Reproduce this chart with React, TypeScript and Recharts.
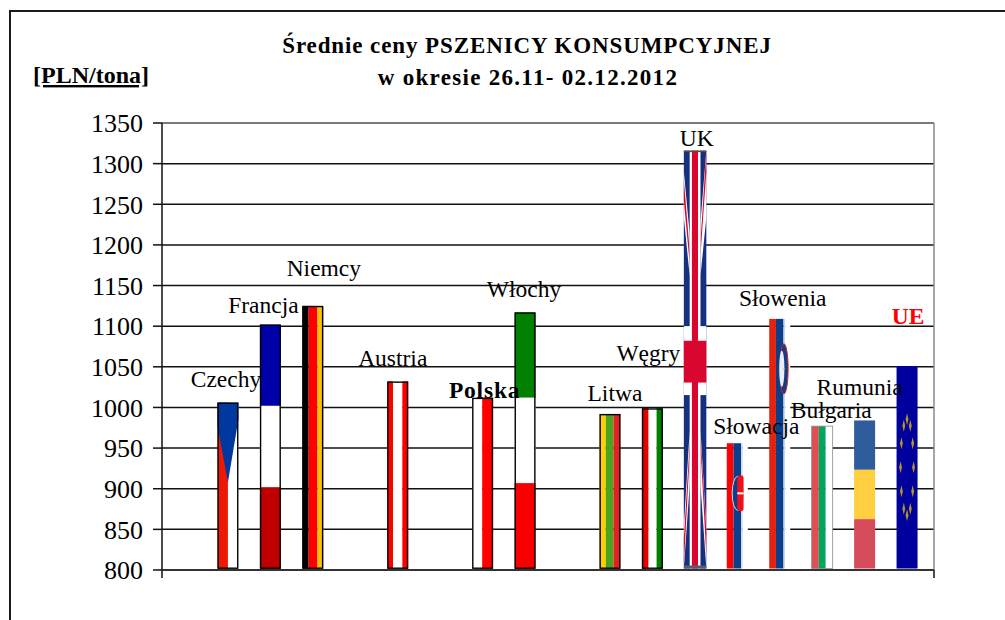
import React from 'react';
import { ComposedChart, Bar, XAxis, YAxis, CartesianGrid, LabelList, ReferenceLine } from 'recharts';

const categories = ['', 'Czechy', 'Francja', 'Niemcy', ' ', 'Austria', '  ', 'Polska', 'Włochy', '   ', 'Litwa', 'Węgry', 'UK', 'Słowacja', 'Słowenia', 'Bułgaria', 'Rumunia', 'UE'];
const prices: (number | null)[] = [null, 1006, 1102, 1125, null, 1032, null, 1012, 1117, null, 992, 999, 1316, 956, 1109, 977, 984, 1051];
const yTicks = [800, 850, 900, 950, 1000, 1050, 1100, 1150, 1200, 1250, 1300, 1350];
const titleLines = ['Średnie ceny PSZENICY KONSUMPCYJNEJ', 'w okresie 26.11- 02.12.2012'];
const unitLabel = '[PLN/tona]';

const chartData = categories.map((name, i) => ({ name, price: prices[i] }));

const FONT = "'Liberation Serif', serif";

// Flag stripes: [colour, share]
const vertical: Record<string, [string, number][]> = {
  Czechy: [['#F01800', 0.5], ['#FFFFFF', 0.5]],
  Niemcy: [['#000000', 0.3], ['#FF0000', 0.42], ['#F5C400', 0.28]],
  Austria: [['#FF0000', 0.28], ['#FFFFFF', 0.44], ['#FF0000', 0.28]],
  Polska: [['#FFFFFF', 0.48], ['#FF0000', 0.52]],
  Litwa: [['#FFD000', 0.3], ['#4EA31E', 0.37], ['#E52020', 0.33]],
  Węgry: [['#E80000', 0.32], ['#FFFFFF', 0.38], ['#008000', 0.3]],
  Słowacja: [['#FF0000', 0.32], ['#0A3F8C', 0.36], ['#C9D9EC', 0.08], ['#FFFFFF', 0.24]],
  Słowenia: [['#E4230F', 0.32], ['#0A3F8C', 0.36], ['#C9D9EC', 0.08], ['#FFFFFF', 0.24]],
  Bułgaria: [['#DF4F52', 0.34], ['#00A65D', 0.33], ['#FFFFFF', 0.33]],
};
const horizontal: Record<string, [string, number][]> = {
  Francja: [['#0000A8', 1 / 3], ['#FFFFFF', 1 / 3], ['#C00000', 1 / 3]],
  Włochy: [['#008000', 1 / 3], ['#FFFFFF', 1 / 3], ['#F80000', 1 / 3]],
  Rumunia: [['#2F5D9B', 1 / 3], ['#FFCF3F', 1 / 3], ['#D64C5A', 1 / 3]],
};
const framed = ['Czechy', 'Francja', 'Niemcy', 'Austria', 'Polska', 'Włochy', 'Litwa', 'Węgry'];

// Union Jack diagonals, in shares of the flag: [edge x, edge y1, edge y2, inner x, inner y1, inner y2]
const jackWhite: number[][] = [
  [0, 0.05, 0.16, 0.26, 0.2, 0.3],
  [1, 0, 0.16, 0.74, 0.17, 0.3],
  [0, 0.9, 1, 0.26, 0.67, 0.8],
  [1, 0.9, 1, 0.74, 0.67, 0.8],
];
const jackRed: number[][] = [
  [0, 0.07, 0.12, 0.26, 0.24, 0.27],
  [1, 0, 0.05, 0.74, 0.22, 0.25],
  [0, 0.93, 0.99, 0.26, 0.7, 0.73],
  [1, 0.91, 0.97, 0.74, 0.68, 0.71],
];

function UnionFlag({ x, y, w, h }: { x: number; y: number; w: number; h: number }) {
  const poly = ([ex, e1, e2, ix, i1, i2]: number[], col: string, key: string) => (
    <polygon
      key={key}
      fill={col}
      points={[
        [ex, e1],
        [ix, i1],
        [ix, i2],
        [ex, e2],
      ]
        .map(([a, b]) => `${x + a * w},${y + b * h}`)
        .join(' ')}
    />
  );
  return (
    <g>
      <rect x={x} y={y} width={w} height={h} fill="#15307F" />
      {jackWhite.map((d, i) => poly(d, '#FFFFFF', `w${i}`))}
      {jackRed.map((d, i) => poly(d, '#D9062F', `r${i}`))}
      <rect x={x + 0.26 * w} y={y} width={0.48 * w} height={h} fill="#FFFFFF" />
      <rect x={x} y={y + 0.42 * h} width={w} height={0.165 * h} fill="#FFFFFF" />
      <rect x={x + 0.36 * w} y={y} width={0.27 * w} height={h} fill="#D9062F" />
      <rect x={x} y={y + 0.455 * h} width={w} height={0.1 * h} fill="#D9062F" />
      <rect x={x} y={y} width={w} height={1.5} fill="#5A4A3A" />
      <rect x={x} y={y + h - 3} width={w} height={3} fill="#5A5A70" />
    </g>
  );
}

function FlagBar(props: any) {
  const { x, y, width, height, payload } = props;
  const name: string = payload.name;
  if (payload.price == null) return null;
  const h = height - 1.5;
  const parts: React.ReactNode[] = [];

  if (name === 'UK') return <UnionFlag x={x - 0.5} y={y} w={width + 1.5} h={h} />;

  if (vertical[name]) {
    let cx = x;
    vertical[name].forEach(([c, s], i) => {
      parts.push(<rect key={i} x={cx} y={y} width={width * s} height={h} fill={c} />);
      cx += width * s;
    });
  }
  if (horizontal[name]) {
    let cy = y;
    horizontal[name].forEach(([c, s], i) => {
      parts.push(<rect key={i} x={x} y={cy} width={width} height={h * s} fill={c} />);
      cy += h * s;
    });
  }
  if (name === 'Czechy') {
    const pts = [[0, 0], [1, 0], [1, 0.1], [0.5, 0.48], [0, 0.14]]
      .map(([a, b]) => `${x + a * width},${y + b * h}`)
      .join(' ');
    parts.push(<polygon key="tri" points={pts} fill="#0038A0" />);
  }
  if (name === 'Słowacja') {
    const cy = y + 0.4 * h;
    parts.push(<ellipse key="e" cx={x + width * 0.52} cy={cy} rx={5.5} ry={17} fill="#0A3F8C" stroke="#C8D8F0" strokeWidth={1} />);
    parts.push(<rect key="r" x={x + width * 0.5} y={cy - 18} width={width * 0.3} height={36} rx={3} fill="#F0101A" />);
    parts.push(<rect key="c" x={x + width * 0.5} y={cy - 1} width={width * 0.3} height={2} fill="#FFFFFF" />);
  }
  if (name === 'Słowenia') {
    const cy = y + 0.2 * h;
    parts.push(<ellipse key="e" cx={x + width * 0.7} cy={cy} rx={4.2} ry={25} fill="#0A3F8C" stroke="#E4230F" strokeWidth={1} />);
    parts.push(<ellipse key="w" cx={x + width * 0.6} cy={cy} rx={2.6} ry={18} fill="#E8EEF6" />);
    parts.push(<circle key="s" cx={x + width * 0.72} cy={cy} r={0.9} fill="#C9A227" />);
  }
  if (name === 'Bułgaria') {
    parts.push(<rect key="o" x={x} y={y} width={width} height={h} fill="none" stroke="#8A8A8A" strokeWidth={0.8} />);
  }
  if (name === 'UE') {
    parts.push(<rect key="b" x={x} y={y} width={width} height={h} fill="#00009C" />);
    const cx = x + width / 2;
    const cy = y + 0.5 * h;
    for (let k = 0; k < 12; k++) {
      const a = (k / 12) * Math.PI * 2;
      const sx = cx + 6.5 * Math.sin(a);
      const sy = cy - 48 * Math.cos(a);
      parts.push(
        <polygon key={k} points={`${sx},${sy - 6} ${sx + 1.4},${sy} ${sx},${sy + 6} ${sx - 1.4},${sy}`} fill="#B8962A" />,
      );
    }
  }
  if (framed.includes(name)) {
    parts.push(
      <rect key="f" x={x + 0.7} y={y + 0.7} width={width - 1.4} height={h - 1} fill="none" stroke="#000000" strokeWidth={1.4} />,
    );
  }
  return <g>{parts}</g>;
}

// Label placement relative to bar centre and top.
const labelOffset: Record<string, [number, number]> = {
  Czechy: [-2, -16],
  Francja: [-7, -12],
  Niemcy: [11, -30],
  Austria: [-5, -15],
  Polska: [2, 0],
  Włochy: [-1, -15],
  Litwa: [5, -13],
  Węgry: [-4, -47],
  UK: [2, -5],
  Słowacja: [19, -9],
  Słowenia: [3, -13],
  Bułgaria: [9, -8],
  Rumunia: [-5, -25],
  UE: [1, -42],
};

function FlagLabel(props: any) {
  const { x, y, width, value } = props;
  if (!value || !labelOffset[value]) return null;
  const [dx, dy] = labelOffset[value];
  const bold = value === 'Polska' || value === 'UE';
  return (
    <text
      x={x + width / 2 + dx}
      y={y + dy}
      textAnchor="middle"
      fontFamily={FONT}
      fontSize={23.5}
      fontWeight={bold ? 700 : 400}
      letterSpacing={value === 'Polska' ? 0.8 : 0}
      fill={value === 'UE' ? '#FF0000' : '#000000'}
    >
      {value}
    </text>
  );
}

export default function App() {
  return (
    <div style={{ position: 'absolute', left: 0, top: 0, width: 1005, height: 620, overflow: 'hidden', background: '#fff' }}>
      <div style={{ position: 'absolute', left: 8.5, top: 10, width: 1100, height: 700, border: '2px solid #1a1a1a', boxSizing: 'border-box' }} />
      <ComposedChart
        width={1005}
        height={620}
        data={chartData}
        margin={{ top: 123, right: 71, bottom: 0, left: 0 }}
        style={{ position: 'absolute', left: 0, top: 0 }}
      >
        <CartesianGrid horizontal vertical={false} stroke="#111111" strokeWidth={1.5} />
        <XAxis
          dataKey="name"
          tick={false}
          tickLine={false}
          axisLine={{ stroke: '#333333', strokeWidth: 2 }}
          padding={{ left: 2, right: 6 }}
          height={50}
          interval={0}
        />
        <YAxis
          domain={[800, 1350]}
          ticks={yTicks}
          width={162}
          interval={0}
          tickSize={9}
          tickMargin={10}
          tick={{ fontFamily: FONT, fontSize: 26, fill: '#000000' }}
          tickLine={{ stroke: '#111111', strokeWidth: 1.5 }}
          axisLine={{ stroke: '#111111', strokeWidth: 1.5 }}
          allowDataOverflow
        />
        <ReferenceLine y={1350} stroke="#8A8A8A" strokeWidth={1.5} />
        <Bar dataKey="price" barSize={21} shape={FlagBar} isAnimationActive={false}>
          <LabelList dataKey="name" content={FlagLabel} />
        </Bar>
        <line x1={162} x2={162} y1={570} y2={578} stroke="#111" strokeWidth={1.5} />
        <line x1={934} x2={934} y1={570} y2={578} stroke="#111" strokeWidth={1.5} />
        <line x1={934} x2={934} y1={123} y2={570} stroke="#8A8A8A" strokeWidth={1.5} />
        <text x={527} y={53} textAnchor="middle" fontFamily={FONT} fontWeight={700} fontSize={23} letterSpacing={0.9}>
          {titleLines[0]}
        </text>
        <text x={528} y={85} textAnchor="middle" fontFamily={FONT} fontWeight={700} fontSize={23} letterSpacing={1.3}>
          {titleLines[1]}
        </text>
        <text x={91} y={83} textAnchor="middle" fontFamily={FONT} fontWeight={700} fontSize={24} textDecoration="underline">
          {unitLabel}
        </text>
      </ComposedChart>
    </div>
  );
}
